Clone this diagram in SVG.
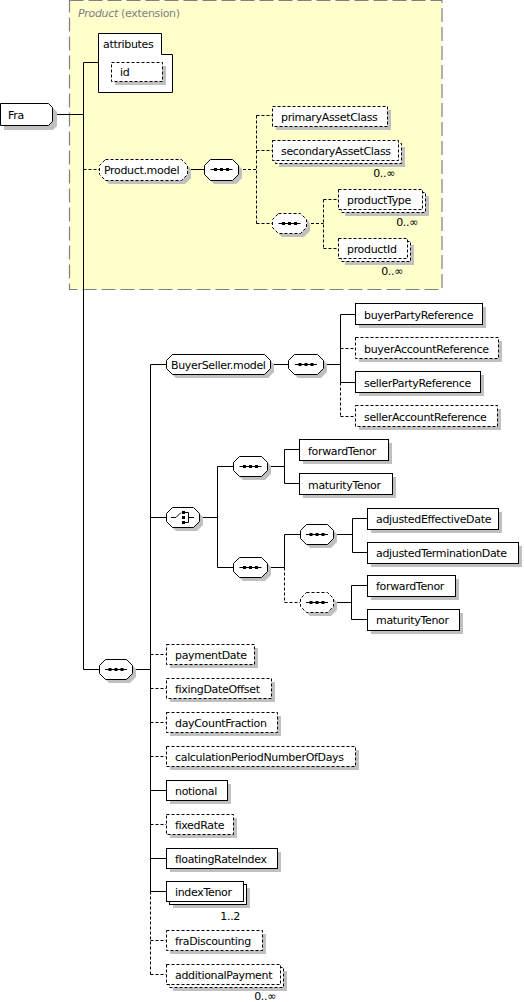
<svg xmlns="http://www.w3.org/2000/svg" width="524" height="1002" viewBox="0 0 524 1002">
<style>
.bx{fill:#fff;stroke:#000;stroke-width:1}
.d{stroke-dasharray:3,2}
.sh{fill:#c0c0c0;stroke:none}
.ln{fill:none;stroke:#000;stroke-width:1}
.dl{stroke-dasharray:3,2}
.dot{fill:#000}
text{font-family:"DejaVu Sans",Verdana,sans-serif;font-size:11px;letter-spacing:-0.33px;fill:#000}
.ext{fill:#808080}
</style>
<defs>
<g id="seqsym"><path d="M-11,0.5H11" stroke="#000" fill="none"/><rect x="-7.5" y="-1" width="3" height="3" class="dot"/><rect x="-1.5" y="-1" width="3" height="3" class="dot"/><rect x="4.5" y="-1" width="3" height="3" class="dot"/></g>
</defs>
<g id="product-extension">
<rect x="69.5" y="0.5" width="372.5" height="289" fill="#ffffcc" stroke="#808080" stroke-width="1.2" stroke-dasharray="14,5"/>
<text x="78" y="17" class="ext"><tspan font-style="italic">Product</tspan> (extension)</text>
</g>
<g id="connectors">
<path class="ln" d="M52.5,114.5H83.5M83.5,62.5V669.5H99.5M83.5,62.5H98.5"/>
<path class="ln dl" d="M83.5,169.5H99"/>
<path class="ln" d="M187,169.5H204"/>
<path class="ln dl" d="M238,169.5H256.5M256.5,115.5V223.5M256.5,115.5H272.5M256.5,150.5H272.5M256.5,223.5H272"/>
<path class="ln dl" d="M306,223.5H323.5M323.5,199.5V248.5M323.5,199.5H338.5M323.5,248.5H338.5"/>
<path class="ln" d="M132,669.5H150.5M150.5,364.5V891.5"/>
<path class="ln dl" d="M150.5,891.5V974.5"/>
<path class="ln" d="M150.5,364.5H166M270,364.5H288M323,364.5H340.5M340.5,314.5V382.5M340.5,314.5H355.5M340.5,382.5H355.5"/>
<path class="ln dl" d="M340.5,382.5V416.5M340.5,348.5H355.5M340.5,416.5H355.5"/>
<path class="ln" d="M150.5,517.5H166M199,517.5H217.5M217.5,466.5V567.5M217.5,466.5H233M217.5,567.5H233"/>
<path class="ln" d="M267,466.5H284.5M284.5,449.5V483.5M284.5,449.5H299.5M284.5,483.5H299.5"/>
<path class="ln" d="M267,567.5H284.5M284.5,534.5V567.5M284.5,534.5H300M333,534.5H352.5M352.5,518.5V552.5M352.5,518.5H367.5M352.5,552.5H367.5"/>
<path class="ln dl" d="M284.5,567.5V602.5H300"/>
<path class="ln" d="M333,602.5H351.5M351.5,585.5V619.5M351.5,585.5H367.5M351.5,619.5H367.5"/>
<path class="ln dl" d="M150.5,654.5H166.5M150.5,688.5H166.5M150.5,722.5H166.5M150.5,756.5H166.5M150.5,824.5H166.5M150.5,940.5H166.5M150.5,974.5H166.5"/>
<path class="ln" d="M150.5,790.5H166.5M150.5,858.5H166.5M150.5,891.5H166.5"/>
</g>
<g id="Fra">
<polygon class="sh" points="4,108 53,108 57,112 57,126 53,130 4,130"/>
<polygon class="bx" points="0.5,103.5 48.5,103.5 52.5,107.5 52.5,121.5 48.5,125.5 0.5,125.5"/>
<text x="8" y="118.5">Fra</text>
</g>
<g id="attributes">
<polygon class="bx" points="98.5,33.5 161.5,33.5 161.5,54.5 172.5,54.5 172.5,92.5 98.5,92.5"/>
<text x="103" y="47.5">attributes</text>
<rect class="sh" x="115" y="66" width="51" height="19"/>
<rect class="bx d" x="111.5" y="62.5" width="51" height="19"/>
<text x="120" y="76">id</text>
</g>
<g id="Product.model">
<path class="sh" d="M109,163H185L191,169V178L185,184H109L103,178V169Z"/>
<path class="bx d" d="M105.5,159.5H181.5L187.5,165.5V174.5L181.5,180.5H105.5L99.5,174.5V165.5Z"/>
<text x="104" y="174">Product.model</text>
</g>
<g id="seq-product">
<path class="sh" d="M214,163H236L242,169V178L236,184H214L208,178V169Z"/>
<path class="bx" d="M210.5,159.5H232.5L238.5,165.5V174.5L232.5,180.5H210.5L204.5,174.5V165.5Z"/>
<use href="#seqsym" x="221.5" y="169"/>
</g>
<g id="primaryAssetClass">
<rect class="sh" x="276" y="110" width="115" height="20"/>
<rect class="bx d" x="272.5" y="106.5" width="115" height="20"/>
<text x="281" y="120.5">primaryAssetClass</text>
</g>
<g id="secondaryAssetClass">
<rect class="sh" x="279" y="147" width="126" height="20"/>
<rect class="bx d" x="275.5" y="143.5" width="126" height="20"/>
<rect class="bx d" x="272.5" y="140.5" width="126" height="20"/>
<text x="281" y="154.5">secondaryAssetClass</text>
<text x="395" y="177" text-anchor="end">0..∞</text>
</g>
<g id="seq-product-sub">
<path class="sh" d="M282,217H304L310,223V231L304,237H282L276,231V223Z"/>
<path class="bx d" d="M278.5,213.5H300.5L306.5,219.5V227.5L300.5,233.5H278.5L272.5,227.5V219.5Z"/>
<use href="#seqsym" x="289.5" y="223"/>
</g>
<g id="productType">
<rect class="sh" x="345" y="196" width="84" height="20"/>
<rect class="bx d" x="341.5" y="192.5" width="84" height="20"/>
<rect class="bx d" x="338.5" y="189.5" width="84" height="20"/>
<text x="347" y="203.5">productType</text>
<text x="418" y="226" text-anchor="end">0..∞</text>
</g>
<g id="productId">
<rect class="sh" x="345" y="245" width="69" height="20"/>
<rect class="bx d" x="341.5" y="241.5" width="69" height="20"/>
<rect class="bx d" x="338.5" y="238.5" width="69" height="20"/>
<text x="347" y="252.5">productId</text>
<text x="403" y="275" text-anchor="end">0..∞</text>
</g>
<g id="BuyerSeller.model">
<path class="sh" d="M176,358H268L274,364V372L268,378H176L170,372V364Z"/>
<path class="bx" d="M172.5,354.5H264.5L270.5,360.5V368.5L264.5,374.5H172.5L166.5,368.5V360.5Z"/>
<text x="171" y="369">BuyerSeller.model</text>
</g>
<g id="seq-buyerseller">
<path class="sh" d="M298,358H321L327,364V372L321,378H298L292,372V364Z"/>
<path class="bx" d="M294.5,354.5H317.5L323.5,360.5V368.5L317.5,374.5H294.5L288.5,368.5V360.5Z"/>
<use href="#seqsym" x="306" y="364"/>
</g>
<g id="buyerPartyReference">
<rect class="sh" x="359" y="307" width="127" height="21"/>
<rect class="bx" x="355.5" y="303.5" width="127" height="21"/>
<text x="364" y="318.5">buyerPartyReference</text>
</g>
<g id="buyerAccountReference">
<rect class="sh" x="359" y="341" width="143" height="21"/>
<rect class="bx d" x="355.5" y="337.5" width="143" height="21"/>
<text x="364" y="352.5">buyerAccountReference</text>
</g>
<g id="sellerPartyReference">
<rect class="sh" x="359" y="375" width="125" height="21"/>
<rect class="bx" x="355.5" y="371.5" width="125" height="21"/>
<text x="364" y="386.5">sellerPartyReference</text>
</g>
<g id="sellerAccountReference">
<rect class="sh" x="359" y="409" width="142" height="21"/>
<rect class="bx d" x="355.5" y="405.5" width="142" height="21"/>
<text x="364" y="420.5">sellerAccountReference</text>
</g>
<g id="choice">
<path class="sh" d="M176,511H197L203,517V525L197,531H176L170,525V517Z"/>
<path class="bx" d="M172.5,507.5H193.5L199.5,513.5V521.5L193.5,527.5H172.5L166.5,521.5V513.5Z"/>
<path class="ln" d="M171,517.5H176L181,512.5"/>
<rect class="dot" x="182" y="511" width="3" height="3"/>
<rect class="dot" x="182" y="516" width="3" height="3"/>
<rect class="dot" x="182" y="521" width="3" height="3"/>
<path class="ln" d="M185,512.5H188.5V522.5H185M188.5,517.5H194"/>
</g>
<g id="seq-tenor">
<path class="sh" d="M243,460H265L271,466V474L265,480H243L237,474V466Z"/>
<path class="bx" d="M239.5,456.5H261.5L267.5,462.5V470.5L261.5,476.5H239.5L233.5,470.5V462.5Z"/>
<use href="#seqsym" x="250.5" y="466"/>
</g>
<g id="forwardTenor">
<rect class="sh" x="303" y="443" width="89" height="21"/>
<rect class="bx" x="299.5" y="439.5" width="89" height="21"/>
<text x="308" y="454.5">forwardTenor</text>
</g>
<g id="maturityTenor">
<rect class="sh" x="303" y="477" width="93" height="21"/>
<rect class="bx" x="299.5" y="473.5" width="93" height="21"/>
<text x="308" y="488.5">maturityTenor</text>
</g>
<g id="seq-dates">
<path class="sh" d="M243,561H265L271,567V575L265,581H243L237,575V567Z"/>
<path class="bx" d="M239.5,557.5H261.5L267.5,563.5V571.5L261.5,577.5H239.5L233.5,571.5V563.5Z"/>
<use href="#seqsym" x="250.5" y="567"/>
</g>
<g id="seq-adjusted">
<path class="sh" d="M310,528H331L337,534V542L331,548H310L304,542V534Z"/>
<path class="bx" d="M306.5,524.5H327.5L333.5,530.5V538.5L327.5,544.5H306.5L300.5,538.5V530.5Z"/>
<use href="#seqsym" x="317" y="534"/>
</g>
<g id="adjustedEffectiveDate">
<rect class="sh" x="371" y="512" width="131" height="21"/>
<rect class="bx" x="367.5" y="508.5" width="131" height="21"/>
<text x="376" y="523">adjustedEffectiveDate</text>
</g>
<g id="adjustedTerminationDate">
<rect class="sh" x="371" y="546" width="151" height="21"/>
<rect class="bx" x="367.5" y="542.5" width="151" height="21"/>
<text x="376" y="557">adjustedTerminationDate</text>
</g>
<g id="seq-tenor-opt">
<path class="sh" d="M310,596H331L337,602V610L331,616H310L304,610V602Z"/>
<path class="bx d" d="M306.5,592.5H327.5L333.5,598.5V606.5L327.5,612.5H306.5L300.5,606.5V598.5Z"/>
<use href="#seqsym" x="317" y="602"/>
</g>
<g id="forwardTenor2">
<rect class="sh" x="371" y="579" width="88" height="21"/>
<rect class="bx" x="367.5" y="575.5" width="88" height="21"/>
<text x="376" y="590">forwardTenor</text>
</g>
<g id="maturityTenor2">
<rect class="sh" x="371" y="613" width="92" height="21"/>
<rect class="bx" x="367.5" y="609.5" width="92" height="21"/>
<text x="376" y="624">maturityTenor</text>
</g>
<g id="seq-main">
<path class="sh" d="M109,663H130L136,669V677L130,683H109L103,677V669Z"/>
<path class="bx" d="M105.5,659.5H126.5L132.5,665.5V673.5L126.5,679.5H105.5L99.5,673.5V665.5Z"/>
<use href="#seqsym" x="116" y="669"/>
</g>
<g id="paymentDate">
<rect class="sh" x="170" y="648" width="88" height="20"/>
<rect class="bx d" x="166.5" y="644.5" width="88" height="20"/>
<text x="175" y="658.5">paymentDate</text>
</g>
<g id="fixingDateOffset">
<rect class="sh" x="170" y="682" width="105" height="20"/>
<rect class="bx d" x="166.5" y="678.5" width="105" height="20"/>
<text x="175" y="692.5">fixingDateOffset</text>
</g>
<g id="dayCountFraction">
<rect class="sh" x="170" y="716" width="111" height="20"/>
<rect class="bx d" x="166.5" y="712.5" width="111" height="20"/>
<text x="175" y="726.5">dayCountFraction</text>
</g>
<g id="calculationPeriodNumberOfDays">
<rect class="sh" x="170" y="750" width="189" height="20"/>
<rect class="bx d" x="166.5" y="746.5" width="189" height="20"/>
<text x="175" y="760.5">calculationPeriodNumberOfDays</text>
</g>
<g id="notional">
<rect class="sh" x="170" y="784" width="61" height="20"/>
<rect class="bx" x="166.5" y="780.5" width="61" height="20"/>
<text x="175" y="794.5">notional</text>
</g>
<g id="fixedRate">
<rect class="sh" x="170" y="818" width="67" height="20"/>
<rect class="bx d" x="166.5" y="814.5" width="67" height="20"/>
<text x="175" y="828.5">fixedRate</text>
</g>
<g id="floatingRateIndex">
<rect class="sh" x="170" y="852" width="111" height="20"/>
<rect class="bx" x="166.5" y="848.5" width="111" height="20"/>
<text x="175" y="862.5">floatingRateIndex</text>
</g>
<g id="indexTenor">
<rect class="sh" x="173" y="888" width="77" height="20"/>
<rect class="bx" x="169.5" y="884.5" width="77" height="20"/>
<rect class="bx" x="166.5" y="881.5" width="77" height="20"/>
<text x="175" y="895.5">indexTenor</text>
<text x="240" y="920" text-anchor="end">1..2</text>
</g>
<g id="fraDiscounting">
<rect class="sh" x="170" y="934" width="96" height="20"/>
<rect class="bx d" x="166.5" y="930.5" width="96" height="20"/>
<text x="175" y="944.5">fraDiscounting</text>
</g>
<g id="additionalPayment">
<rect class="sh" x="173" y="971" width="114" height="20"/>
<rect class="bx d" x="169.5" y="967.5" width="114" height="20"/>
<rect class="bx d" x="166.5" y="964.5" width="114" height="20"/>
<text x="175" y="978.5">additionalPayment</text>
<text x="276" y="1000" text-anchor="end">0..∞</text>
</g>
</svg>
